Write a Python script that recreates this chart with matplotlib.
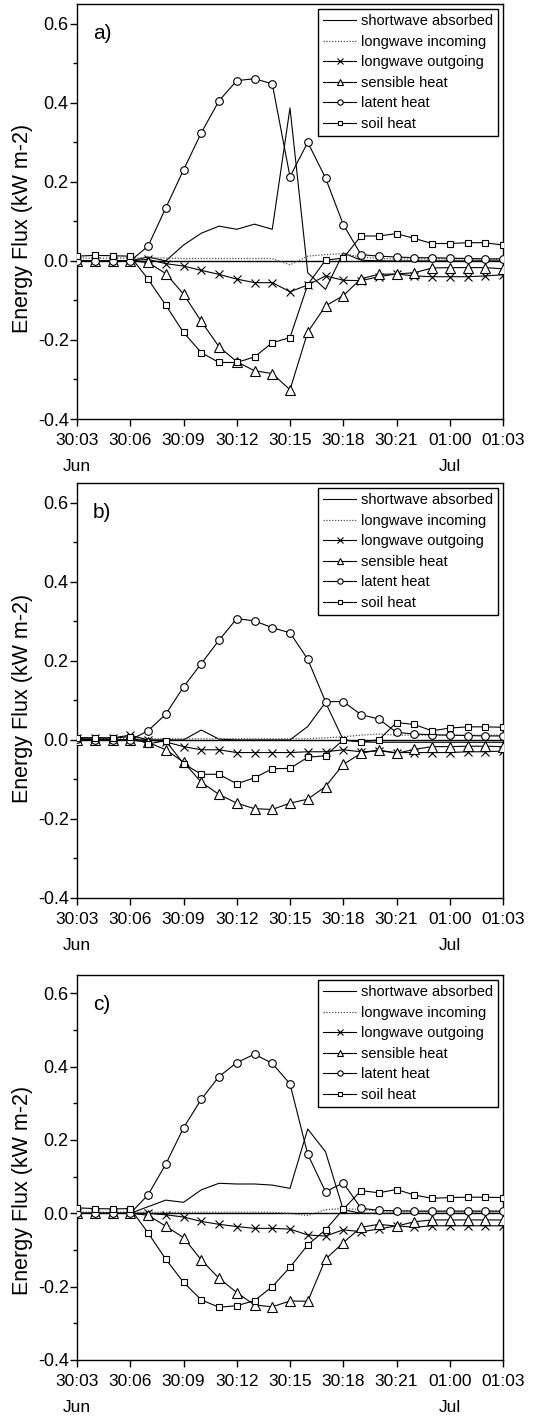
#!/usr/bin/env python3
"""
Energy balance components over one diurnal cycle (30 Jun - 1 Jul),
three model runs a), b), c) stacked vertically.
"""

import matplotlib
matplotlib.use('Agg')
import matplotlib.pyplot as plt
from matplotlib import font_manager
from matplotlib.ticker import MultipleLocator, FormatStrFormatter

plt.rcParams['font.family'] = 'Liberation Sans'
plt.rcParams['axes.unicode_minus'] = False

# Hourly time axis: hours after 30 Jun 00:00
hours = [3, 4, 5, 6, 7, 8, 9, 10, 11, 12, 13, 14, 15,
         16, 17, 18, 19, 20, 21, 22, 23, 24, 25, 26, 27]
tick_hours = [3, 6, 9, 12, 15, 18, 21, 24, 27]
tick_labels = ['30:03', '30:06', '30:09', '30:12', '30:15',
               '30:18', '30:21', '01:00', '01:03']
series_names = ['shortwave absorbed', 'longwave incoming', 'longwave outgoing',
                'sensible heat', 'latent heat', 'soil heat']
panel_tags = ['a)', 'b)', 'c)']

# Panel a) (kW m-2)
sw_a = [0, 0, 0, 0, 0.01, 0.0, 0.04, 0.07, 0.088, 0.08, 0.093, 0.08, 0.387,
        -0.03, -0.072, 0.02, 0.002, 0, 0, 0, 0, 0, 0, 0, 0]
lwin_a = [0.007, 0.007, 0.007, 0.007, 0.008, 0.007, 0.006, 0.006, 0.006, 0.006,
          0.006, 0.006, -0.01, 0.012, 0.016, 0.018, 0.01, 0.006, 0.005, 0.005,
          0.005, 0.005, 0.005, 0.005, 0.005]
lwout_a = [0, 0, 0, 0, 0.004, -0.007, -0.013, -0.024, -0.034, -0.046, -0.055,
           -0.055, -0.078, -0.061, -0.038, -0.049, -0.05, -0.04, -0.033, -0.038,
           -0.04, -0.04, -0.04, -0.038, -0.035]
sens_a = [0, 0, 0, 0, -0.004, -0.032, -0.084, -0.153, -0.217, -0.255, -0.278,
          -0.285, -0.326, -0.18, -0.114, -0.088, -0.045, -0.034, -0.033, -0.03,
          -0.018, -0.017, -0.017, -0.017, -0.02]
lat_a = [0, 0, 0, 0, 0.037, 0.134, 0.23, 0.324, 0.405, 0.456, 0.461, 0.448,
         0.213, 0.30, 0.21, 0.092, 0.016, 0.012, 0.01, 0.008, 0.008, 0.007,
         0.006, 0.005, 0.005]
soil_a = [0.012, 0.014, 0.013, 0.012, -0.046, -0.112, -0.181, -0.232, -0.257,
          -0.257, -0.243, -0.207, -0.194, -0.06, 0.002, 0.007, 0.063, 0.063,
          0.069, 0.057, 0.044, 0.044, 0.046, 0.046, 0.04]

# Panel b)
sw_b = [0, 0, 0, 0, 0, 0, 0.0, 0.025, 0.002, 0, 0, 0, 0, 0.034, 0.095, 0.0,
        -0.005, -0.006, -0.006, -0.006, -0.006, -0.006, -0.006, -0.006, -0.006]
lwin_b = [0.003, 0.003, 0.003, 0.003, 0.003, 0.003, 0.003, 0.003, 0.003, 0.003,
          0.003, 0.003, 0.003, 0.003, 0.005, 0.008, 0.012, 0.015, 0.012, 0.012,
          0.012, 0.012, 0.012, 0.012, 0.012]
lwout_b = [0.005, 0.005, 0.005, 0.012, 0.0, -0.005, -0.017, -0.025, -0.025,
           -0.032, -0.032, -0.032, -0.032, -0.03, -0.03, -0.025, -0.03, -0.028,
           -0.032, -0.032, -0.032, -0.032, -0.03, -0.03, -0.028]
sens_b = [0, 0, 0, 0, -0.006, -0.025, -0.056, -0.107, -0.138, -0.16, -0.174,
          -0.176, -0.16, -0.15, -0.118, -0.062, -0.034, -0.025, -0.034, -0.024,
          -0.017, -0.017, -0.016, -0.016, -0.017]
lat_b = [0.003, 0, 0, 0, 0.023, 0.065, 0.134, 0.193, 0.252, 0.307, 0.301,
         0.284, 0.271, 0.204, 0.097, 0.097, 0.064, 0.053, 0.019, 0.015, 0.013,
         0.012, 0.011, 0.01, 0.01]
soil_b = [0.005, 0.005, 0.005, 0.008, -0.01, -0.002, -0.06, -0.087, -0.087,
          -0.111, -0.096, -0.073, -0.072, -0.044, -0.04, 0.0, -0.005, 0.0,
          0.044, 0.039, 0.023, 0.03, 0.033, 0.033, 0.032]

# Panel c)
sw_c = [0, 0, 0, 0, 0.018, 0.036, 0.03, 0.064, 0.082, 0.08, 0.08, 0.077,
        0.068, 0.23, 0.168, 0.01, 0.0, 0, 0, 0, 0, 0, 0, 0, 0]
lwin_c = [0.003, 0.003, 0.003, 0.003, 0.003, 0.003, 0.003, 0.003, 0.003, 0.003,
          0.003, 0.003, 0.0, -0.006, 0.01, 0.013, 0.01, 0.006, 0.006, 0.006,
          0.006, 0.006, 0.006, 0.006, 0.006]
lwout_c = [0, 0, 0, 0, 0.0, -0.004, -0.01, -0.022, -0.03, -0.036, -0.041,
           -0.041, -0.043, -0.059, -0.062, -0.045, -0.05, -0.043, -0.034,
           -0.038, -0.034, -0.034, -0.034, -0.034, -0.034]
sens_c = [0, 0, 0, 0, -0.005, -0.035, -0.066, -0.127, -0.177, -0.216, -0.25,
          -0.255, -0.239, -0.24, -0.125, -0.08, -0.038, -0.03, -0.035, -0.023,
          -0.018, -0.018, -0.018, -0.018, -0.018]
lat_c = [0, 0, 0, 0, 0.05, 0.134, 0.233, 0.311, 0.373, 0.411, 0.434, 0.409,
         0.353, 0.161, 0.059, 0.083, 0.014, 0.008, 0.007, 0.006, 0.006, 0.006,
         0.006, 0.006, 0.006]
soil_c = [0.015, 0.013, 0.012, 0.013, -0.053, -0.125, -0.188, -0.236, -0.256,
          -0.252, -0.238, -0.2, -0.147, -0.086, -0.045, 0.011, 0.062, 0.056,
          0.065, 0.05, 0.041, 0.043, 0.044, 0.044, 0.043]

# Figure layout in pixels (fig is 538 x 1416 at dpi 100)
W, H = 538, 1416
ax_left, ax_right = 77, 503
panel_top_bottom = [(4, 419), (483, 898), (975, 1360)]
ylabel_y = [0.46, 0.48, 0.44]

# Origin-style condensed text: use the narrow face when it is installed
installed = {f.name for f in font_manager.fontManager.ttflist}
if 'Liberation Sans Narrow' in installed:
    narrow = 'Liberation Sans Narrow'
    legend_size, xtick_size = 12.8, 14.5
else:
    narrow = 'Liberation Sans'
    legend_size, xtick_size = 10.5, 12.5

fig = plt.figure(figsize=(W / 100, H / 100), dpi=100)


def draw_panel(ax, tag, sw, lwin, lwout, sens, lat, soil, label_y):
    ax.axhline(0, color='black', lw=1.0, zorder=1)
    common = dict(color='black', lw=0.8, mec='black', mfc='white', mew=0.8)
    ax.plot(hours, sw, '-', color='black', lw=0.8, label=series_names[0], zorder=2)
    ax.plot(hours, lwin, linestyle=(0, (1, 1.3)), color='0.3', lw=0.9,
            label=series_names[1], zorder=2)
    ax.plot(hours, lwout, '-', marker='x', ms=5.5, label=series_names[2], zorder=3, **common)
    ax.plot(hours, sens, '-', marker='^', ms=6.5, label=series_names[3], zorder=4, **common)
    ax.plot(hours, lat, '-', marker='o', ms=5.5, label=series_names[4], zorder=5, **common)
    ax.plot(hours, soil, '-', marker='s', ms=4.6, label=series_names[5], zorder=6, **common)

    ax.set_xlim(3, 27)
    ax.set_ylim(-0.4, 0.65)
    ax.set_xticks(tick_hours)
    ax.set_xticklabels(tick_labels, family=narrow, fontsize=xtick_size)
    ax.yaxis.set_major_locator(MultipleLocator(0.2))
    ax.yaxis.set_minor_locator(MultipleLocator(0.1))
    ax.yaxis.set_major_formatter(FormatStrFormatter('%.1f'))
    ax.tick_params(axis='y', which='major', direction='out', length=5, width=1,
                   labelsize=13, pad=1)
    ax.tick_params(axis='y', which='minor', direction='out', length=3, width=1)
    ax.tick_params(axis='x', which='major', direction='out', length=5, width=1, pad=5)
    for sp in ax.spines.values():
        sp.set_linewidth(1.0)

    ax.set_ylabel('Energy Flux (kW m-2)', fontsize=15.5)
    ax.yaxis.label.set_verticalalignment('center')
    ax.yaxis.set_label_coords(-54 / (ax_right - ax_left), label_y)

    ax.annotate(tag, xy=(0, 1), xycoords='axes fraction', xytext=(11.5, -21.5),
                textcoords='offset points', fontsize=15, ha='left', va='center')

    # month names under the first and the midnight tick
    for x, month in [(3, 'Jun'), (24, 'Jul')]:
        ax.annotate(month, xy=(x, 0), xycoords=('data', 'axes fraction'),
                    xytext=(0, -34), textcoords='offset points',
                    family=narrow, fontsize=xtick_size, ha='center', va='center')

    leg = ax.legend(loc='upper right', fancybox=False, edgecolor='black',
                    framealpha=1, borderaxespad=0.35, handlelength=2.3,
                    handletextpad=0.3, markerscale=0.7, borderpad=0.35,
                    labelspacing=0.45, prop={'family': narrow, 'size': legend_size})
    leg.get_frame().set_linewidth(1.0)


panels = [
    (sw_a, lwin_a, lwout_a, sens_a, lat_a, soil_a),
    (sw_b, lwin_b, lwout_b, sens_b, lat_b, soil_b),
    (sw_c, lwin_c, lwout_c, sens_c, lat_c, soil_c),
]

for i, data in enumerate(panels):
    top, bottom = panel_top_bottom[i]
    ax = fig.add_axes([ax_left / W, 1 - bottom / H,
                       (ax_right - ax_left) / W, (bottom - top) / H])
    draw_panel(ax, panel_tags[i], *data, ylabel_y[i])

fig.savefig('out.png', dpi=100)
